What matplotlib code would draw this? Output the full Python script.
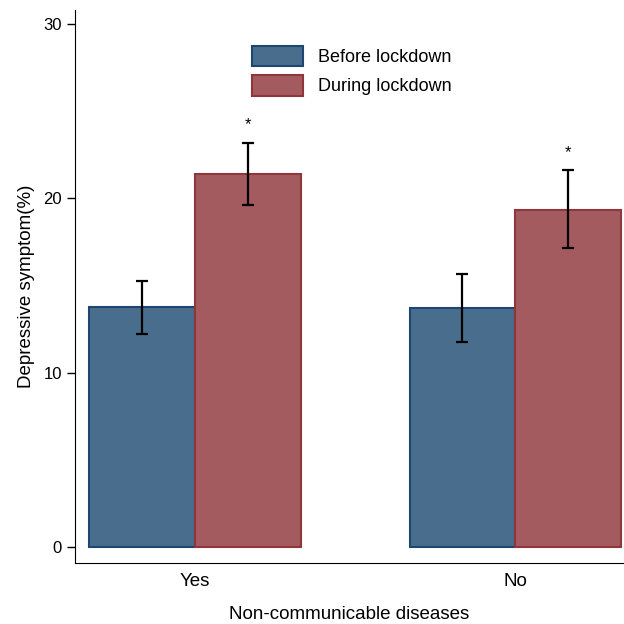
import numpy as np
import matplotlib; matplotlib.use("Agg")
import matplotlib.pyplot as plt
from matplotlib.patches import Patch

plt.rcParams["font.family"] = ["Liberation Sans", "DejaVu Sans"]

groups = ["Yes", "No"]
before = [13.75, 13.7]
before_lo = [12.25, 11.75]
before_hi = [15.25, 15.65]
during = [21.4, 19.35]
during_lo = [19.65, 17.13]
during_hi = [23.2, 21.6]
stars = ["*", "*"]

BLUE, BLUE_E = "#496d8c", "#1e4670"
RED, RED_E = "#a45b5f", "#90353b"

fig = plt.figure(figsize=(6.24, 6.24), dpi=100)
ax = fig.add_axes([75/624, 1-563/624, 1-75/624, (563-10)/624])

x = np.arange(len(groups))
w = 0.33
ax.bar(x - w/2, before, w, color=BLUE, edgecolor=BLUE_E, lw=1.5)
ax.bar(x + w/2, during, w, color=RED, edgecolor=RED_E, lw=1.5)
err_kw = dict(fmt="none", ecolor="black", elinewidth=1.6, capsize=4.5, capthick=1.6)
ax.errorbar(x - w/2, before,
            yerr=[np.subtract(before, before_lo), np.subtract(before_hi, before)], **err_kw)
ax.errorbar(x + w/2, during,
            yerr=[np.subtract(during, during_lo), np.subtract(during_hi, during)], **err_kw)
for xi, hi, s in zip(x + w/2, during_hi, stars):
    ax.text(xi, hi + 0.6, s, ha="center", va="bottom", fontsize=12)

ax.set_xlim(-0.375, 1.34)
ax.set_ylim(-0.9, 30.8)
ax.set_yticks([0, 10, 20, 30])
ax.set_xticks(x)
ax.set_xticklabels(groups)
ax.tick_params(axis="x", length=0, pad=7, labelsize=13.5)
ax.tick_params(axis="y", length=6, width=1, labelsize=12)
for s in ["top", "right"]:
    ax.spines[s].set_visible(False)
ax.set_xlabel("Non-communicable diseases", fontsize=13.5, labelpad=12)
ax.set_ylabel("Depressive symptom(%)", fontsize=13.5, labelpad=6)

ax.legend([Patch(facecolor=BLUE, edgecolor=BLUE_E, lw=1.5),
           Patch(facecolor=RED, edgecolor=RED_E, lw=1.5)],
          ["Before lockdown", "During lockdown"],
          frameon=False, fontsize=13, handlelength=2.83, handleheight=1.35,
          handletextpad=0.8, labelspacing=0.5, borderaxespad=0, borderpad=0,
          loc="upper left", bbox_to_anchor=((252-75)/549, 1-(46-10)/553))

fig.savefig("out.png", dpi=100)
